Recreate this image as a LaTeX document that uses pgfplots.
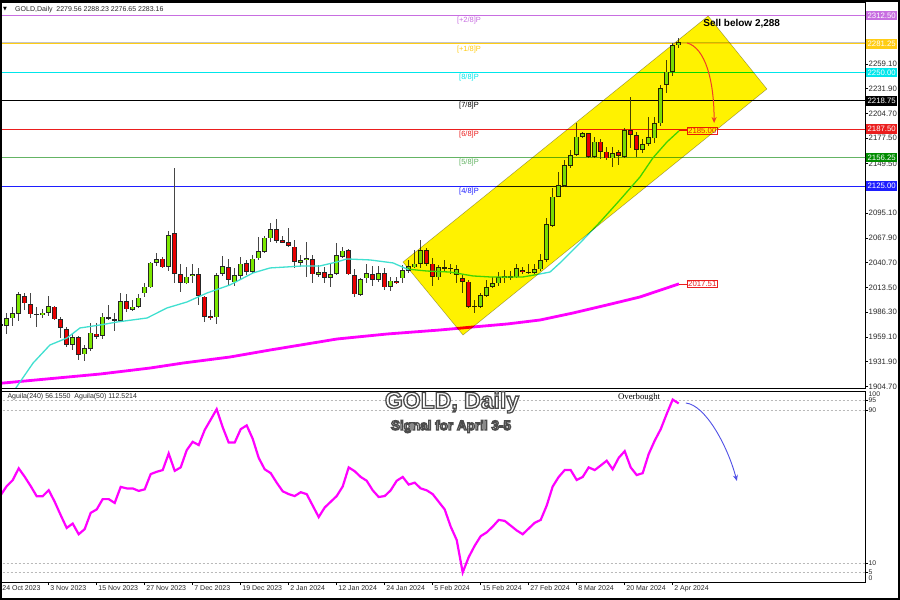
\documentclass[border=0pt]{standalone}
\usepackage{pgfplots}
\pgfplotsset{compat=1.18}
\usepackage{pgfplotstable}
\usetikzlibrary{arrows.meta}
\usepackage{fontspec}
\setmainfont{Liberation Sans}
\newfontfamily\serifff{Liberation Serif}
\newfontfamily\dejavu{DejaVu Sans}

\definecolor{mviolet}{RGB}{200,110,225}
\definecolor{mgold}{RGB}{255,205,20}
\definecolor{maqua}{RGB}{0,230,235}
\definecolor{mred}{RGB}{235,30,30}
\definecolor{mgreen}{RGB}{100,180,100}
\definecolor{mgreenbox}{RGB}{0,140,0}
\definecolor{mblue}{RGB}{30,30,255}
\definecolor{bull}{RGB}{124,232,0}
\definecolor{bear}{RGB}{232,0,0}
\definecolor{wickc}{RGB}{70,70,70}
\definecolor{ma21}{RGB}{64,224,208}
\definecolor{ma200}{RGB}{255,0,255}
\definecolor{txt}{RGB}{40,40,40}
\definecolor{arrred}{RGB}{240,60,40}
\definecolor{arrblue}{RGB}{80,80,230}

% outlined heading text: fill white, stroke dark grey
\newcommand{\outlined}[1]{\special{pdf:literal direct 2 Tr 0.3 0.3 0.3 RG 1.3 w}#1\special{pdf:literal direct 0 Tr}}

% daily candles, x = bar number (24 Oct 2023 = 0)
\pgfplotstableread{
i o h l c
1 1971.6 1985.9 1962.4 1979.7
2 1979.7 1992.4 1971.2 1985.2
3 1984.4 2008.9 1976.9 2006.4
7 1983.0 1989.6 1979.7 1985.9
8 1985.9 2004.2 1982.5 1993.2
12 1950.3 1963.4 1945.0 1959.0
14 1940.1 1950.0 1932.9 1946.7
15 1946.4 1974.2 1943.7 1964.0
17 1960.4 1985.2 1956.8 1981.4
18 1979.7 1994.3 1977.8 1980.8
20 1977.0 2007.5 1975.9 1998.7
22 1988.8 1999.8 1987.4 1992.4
23 1992.4 2006.0 1991.3 2002.3
24 2007.2 2018.2 2003.4 2014.4
25 2013.8 2041.9 2012.7 2040.8
26 2040.8 2051.1 2037.6 2044.5
28 2036.4 2075.6 2032.0 2071.2
31 2018.2 2035.7 2017.1 2025.5
32 2026.1 2039.8 2018.7 2028.4
36 1980.8 2029.2 1973.4 2027.3
37 2028.4 2048.5 2026.1 2037.1
39 2019.3 2034.6 2015.2 2027.3
40 2026.1 2047.1 2021.8 2039.8
42 2030.9 2048.9 2029.2 2045.2
43 2045.6 2069.4 2043.4 2053.6
44 2052.9 2070.1 2051.1 2068.3
45 2067.6 2084.8 2063.9 2077.5
50 2040.8 2049.3 2035.7 2043.7
51 2043.4 2063.9 2025.4 2045.9
53 2027.6 2038.3 2025.4 2030.2
55 2024.2 2040.8 2013.8 2028.4
56 2028.4 2062.8 2027.3 2048.9
57 2047.5 2058.4 2045.6 2054.0
60 2005.3 2024.3 2004.2 2022.9
61 2023.6 2039.8 2018.7 2029.1
63 2021.8 2037.1 2019.3 2029.1
65 2014.4 2024.7 2009.7 2021.0
67 2023.6 2038.3 2018.7 2032.8
68 2032.1 2043.7 2029.8 2037.1
69 2035.7 2055.1 2034.6 2039.8
70 2039.3 2065.8 2034.6 2054.7
73 2024.7 2038.3 2021.8 2035.7
75 2034.6 2039.8 2028.8 2034.9
76 2027.3 2038.3 2018.7 2033.5
80 1992.4 2007.8 1990.7 2005.3
81 2004.2 2021.8 2003.4 2013.8
82 2014.4 2025.5 2012.7 2018.2
83 2018.2 2030.9 2015.2 2024.7
84 2023.6 2032.8 2018.7 2026.1
85 2024.7 2032.1 2021.8 2026.1
86 2024.7 2039.8 2023.6 2034.6
89 2029.8 2039.3 2028.4 2033.5
90 2033.5 2050.4 2032.0 2043.7
91 2043.7 2089.6 2041.9 2083.0
92 2081.1 2122.6 2080.3 2113.3
93 2113.3 2140.8 2112.6 2126.2
94 2125.1 2153.7 2123.7 2148.2
95 2147.1 2164.7 2144.5 2159.2
96 2159.2 2194.7 2158.1 2179.3
97 2179.3 2184.8 2177.5 2183.0
99 2157.3 2178.6 2155.5 2173.8
102 2155.5 2167.5 2146.3 2161.3
104 2157.3 2188.5 2155.5 2186.6
107 2164.7 2176.4 2161.7 2171.3
108 2171.3 2200.6 2169.0 2178.6
109 2177.5 2200.6 2172.0 2194.0
110 2194.0 2236.1 2191.0 2232.5
111 2236.0 2263.6 2227.6 2250.7
112 2250.7 2282.6 2246.0 2280.1
113 2279.56 2288.23 2276.65 2283.16
}\upc

\pgfplotstableread{
i o h l c
0 1972.5 1975.0 1969.0 1972.0
4 2004.2 2007.5 1989.2 1996.2
5 1995.1 2007.5 1979.7 1984.1
6 1984.4 1991.8 1969.8 1983.6
9 1992.4 1993.2 1977.8 1978.6
10 1978.6 1981.4 1957.7 1969.3
11 1967.9 1970.4 1948.5 1950.3
13 1959.0 1960.4 1934.0 1939.8
16 1962.9 1974.2 1956.8 1959.6
19 1978.6 1985.2 1965.7 1977.8
21 1998.7 2006.8 1987.0 1989.6
27 2045.2 2047.4 2034.6 2035.7
29 2073.1 2144.5 2018.7 2028.4
30 2028.4 2039.8 2008.1 2018.7
33 2028.4 2034.6 1994.3 2004.2
34 2003.4 2004.2 1975.9 1981.4
35 1982.2 1988.8 1977.8 1979.7
38 2035.7 2044.9 2015.2 2021.8
41 2040.5 2043.4 2027.3 2030.5
46 2077.5 2088.5 2062.1 2065.0
47 2065.8 2070.1 2062.1 2062.9
48 2063.2 2078.6 2058.4 2059.1
49 2058.4 2065.8 2034.6 2041.9
52 2044.5 2049.3 2018.2 2028.0
54 2030.2 2035.7 2018.7 2024.2
58 2054.4 2055.5 2027.3 2028.0
59 2027.3 2033.5 2002.8 2006.1
62 2028.4 2037.1 2015.2 2021.8
64 2029.1 2035.2 2010.8 2013.8
66 2020.7 2025.4 2017.4 2018.2
71 2054.7 2056.6 2036.7 2039.3
72 2039.8 2045.6 2015.2 2025.4
74 2035.7 2043.7 2031.0 2035.0
77 2023.6 2028.8 2007.2 2019.9
78 2019.9 2021.8 1990.7 1992.4
79 1993.2 1999.8 1985.2 1992.1
87 2032.8 2036.4 2028.8 2030.9
88 2030.9 2039.3 2028.8 2029.8
98 2183.0 2183.7 2155.5 2157.3
100 2173.8 2176.4 2154.4 2162.8
101 2162.8 2168.3 2153.7 2155.5
103 2162.0 2164.9 2148.2 2158.3
105 2186.6 2222.6 2166.5 2181.1
106 2181.1 2184.8 2156.6 2164.7
}\dnc

\pgfplotsset{
  candlebar/.style 2 args={draw=none, mark=none, forget plot,
    error bars/.cd, y dir=both, y explicit, error mark=none,
    error bar style={draw=#1, line width=#2}},
}
\newcommand{\candles}[2]{%
  \addplot[candlebar={wickc}{0.9pt}] table[x=i, y expr={(\thisrow{h}+\thisrow{l})/2},
    y error expr={(\thisrow{h}-\thisrow{l})/2}] {#1};
  \addplot[candlebar={black!85}{4.6pt}] table[x=i, y expr={(\thisrow{o}+\thisrow{c})/2},
    y error expr={max(abs(\thisrow{c}-\thisrow{o})/2,0.7)}] {#1};
  \addplot[candlebar={#2}{3pt}] table[x=i, y expr={(\thisrow{o}+\thisrow{c})/2},
    y error expr={max(abs(\thisrow{c}-\thisrow{o})/2-0.8,0)}] {#1};
}
\newcommand{\murrey}[3]{%
  \addplot[#1, line width=1pt, forget plot] coordinates {(-1,#2) (150,#2)};
  \node[text=#1, anchor=north, inner sep=0pt, yshift=-1.6pt, font=\fontsize{7.5}{8}\selectfont]
    at (axis cs:78.05,#2) {#3};
}
\newcommand{\pricebox}[3]{%
  \node[anchor=west, fill=#1, text=white, inner sep=0pt, minimum width=31pt, minimum height=9.5pt,
    font=\fontsize{7.8}{8}\selectfont] at ([xshift=1pt]#2) {#3};
}

\begin{document}
\begin{tikzpicture}
\path[use as bounding box] (0pt,0pt) rectangle (900pt,600pt);
\fill[white] (0pt,0pt) rectangle (900pt,600pt);

% ---------- price panel ----------
\begin{axis}[
  at={(0pt,212pt)}, anchor=south west,
  scale only axis, width=865pt, height=386pt,
  xmin=-0.117, xmax=144.05, ymin=1903.05, ymax=2327.3,
  axis line style={black, line width=0.8pt},
  xtick=\empty,
  ytick={1904.7,1931.9,1959.1,1986.3,2013.5,2040.7,2067.9,2095.1,2149.5,2177.5,2204.7,2231.9,2259.1},
  yticklabels={1904.70,1931.90,1959.10,1986.30,2013.50,2040.70,2067.90,2095.10,2149.50,2177.50,2204.70,2231.90,2259.10},
  ytick pos=right, yticklabel pos=right,
  tick align=outside, major tick length=3pt,
  tick style={black, line width=0.6pt},
  yticklabel style={font=\fontsize{7.8}{8}\selectfont, text=txt, inner sep=0.5pt},
  clip mode=individual,
]
\murrey{mviolet}{2312.5}{[+2/8]P}
\addplot[gray!45, line width=0.8pt, forget plot] coordinates {(-1,2283.16) (150,2283.16)};
\murrey{mgold}{2281.25}{[+1/8]P}
\murrey{maqua}{2250}{[8/8]P}
\murrey{black}{2218.75}{[7/8]P}
\murrey{mred}{2187.5}{[6/8]P}
\murrey{mgreen}{2156.25}{[5/8]P}
\murrey{mblue}{2125}{[4/8]P}

% 200-day average
\addplot[ma200, line width=2.8pt] coordinates {
(-0.1,1908.2) (16.55,1918.4) (24.9,1925.0) (30.4,1930.5) (38.2,1937.1) (44.9,1944.8)
(56.05,1956.9) (64.4,1962.4) (73.2,1966.8) (78.7,1970.1) (84.4,1973.4) (89.9,1977.8)
(95.4,1985.5) (101.05,1994.3) (106.55,2003.1) (113.05,2017.5)};

\candles{\upc}{bull}
\candles{\dnc}{bear}

% 21-day average
\addplot[ma21, line width=1.3pt] coordinates {
(2.0,1898) (5.4,1930.5) (8.2,1950.3) (11.05,1958.0) (13.2,1969.0) (16.55,1972.3)
(19.4,1975.6) (24.4,1980.0) (27.7,1991.0) (31.05,1997.6) (34.4,2007.5) (38.2,2016.3)
(42.05,2029.5) (44.9,2035.0) (47.7,2036.1) (50.4,2037.2) (53.2,2037.2) (56.05,2041.6)
(57.7,2044.9) (61.55,2043.8) (65.4,2040.5) (67.7,2033.8) (71.05,2031.6) (74.9,2030.5)
(78.7,2026.2) (81.55,2025.1) (84.4,2025.1) (87.05,2025.1) (89.9,2028.4) (91.55,2030.5)
(93.2,2040.4) (96.55,2062.4) (99.9,2085.5) (103.2,2109.7) (106.55,2135.0) (108.7,2155.9)
(111.05,2173.5) (113.05,2185.6)};

% value tags at the ends of the averages
\draw[mred, line width=0.6pt] (axis cs:113.05,2186.1) -- (axis cs:114.4,2186.1);
\node[anchor=west, draw=mred, fill=white, text=mred, inner sep=0.8pt, line width=0.6pt,
  font=\fontsize{7.8}{8}\selectfont] at (axis cs:114.4,2186.1) {2185.00};
\draw[mred, line width=0.6pt] (axis cs:113.05,2017.5) -- (axis cs:114.4,2017.5);
\node[anchor=west, draw=mred, fill=white, text=mred, inner sep=0.8pt, line width=0.6pt,
  font=\fontsize{7.8}{8}\selectfont] at (axis cs:114.4,2017.5) {2017.51};

% rising channel (multiplied over the chart)
\addplot[fill=yellow, draw=gray!70, line width=0.5pt, blend mode=multiply] coordinates {
(67.05,2041.5) (77.05,1961.3) (127.7,2231.7) (117.9,2311.9)} -- cycle;

\draw[arrred, line width=1pt, -{Stealth[length=6pt,width=5pt]}]
  (axis cs:114.4,2282.3) .. controls (axis cs:117.4,2276.8) and (axis cs:118.9,2241.6) .. (axis cs:118.9,2194.3);
\node[anchor=base, font=\bfseries\fontsize{10}{11}\selectfont] at (axis cs:123.5,2300.6) {Sell below 2,288};

\coordinate (b1) at (axis cs:144.05,2312.5);
\coordinate (b2) at (axis cs:144.05,2281.25);
\coordinate (b3) at (axis cs:144.05,2250);
\coordinate (b4) at (axis cs:144.05,2218.75);
\coordinate (b5) at (axis cs:144.05,2187.5);
\coordinate (b6) at (axis cs:144.05,2156.25);
\coordinate (b7) at (axis cs:144.05,2125);
\end{axis}

\pricebox{mviolet}{b1}{2312.50}
\pricebox{mgold}{b2}{2281.25}
\pricebox{maqua}{b3}{2250.00}
\pricebox{black}{b4}{2218.75}
\pricebox{mred}{b5}{2187.50}
\pricebox{mgreenbox}{b6}{2156.25}
\pricebox{mblue}{b7}{2125.00}

% ---------- oscillator panel ----------
\begin{axis}[
  at={(0pt,18pt)}, anchor=south west,
  scale only axis, width=865pt, height=191pt,
  xmin=-0.117, xmax=144.05, ymin=0, ymax=100,
  axis line style={black, line width=0.8pt},
  xtick={0,8,...,112},
  xticklabels={24 Oct 2023,3 Nov 2023,15 Nov 2023,27 Nov 2023,7 Dec 2023,19 Dec 2023,2 Jan 2024,12 Jan 2024,24 Jan 2024,5 Feb 2024,15 Feb 2024,27 Feb 2024,8 Mar 2024,20 Mar 2024,2 Apr 2024},
  xtick pos=bottom,
  xticklabel style={font=\fontsize{7}{8}\selectfont, text=txt, anchor=north west, inner sep=0pt, xshift=1.5pt},
  ytick={5,10,90,95}, yticklabels={5,10,90,95},
  ytick pos=right, yticklabel pos=right,
  yticklabel style={font=\fontsize{6.8}{7}\selectfont, text=txt, inner sep=0.5pt},
  tick align=outside, major tick length=3pt,
  tick style={black, line width=0.6pt},
  clip mode=individual,
]
\addplot[gray!55, dash pattern=on 2pt off 2pt, line width=0.6pt] coordinates {(-1,95) (150,95)};
\addplot[gray!55, dash pattern=on 2pt off 2pt, line width=0.6pt] coordinates {(-1,90) (150,90)};
\addplot[gray!55, dash pattern=on 2pt off 2pt, line width=0.6pt] coordinates {(-1,10) (150,10)};
\addplot[gray!55, dash pattern=on 2pt off 2pt, line width=0.6pt] coordinates {(-1,5) (150,5)};

\addplot[ma200, line width=2.2pt] coordinates {
(0,45.5)(1,50.2)(2,53.3)(3,59.5)(4,55.1)(5,50.2)(6,44.9)(7,44.9)(8,48.1)(9,42.0)
(10,35.0)(11,28.3)(12,30.6)(13,25.0)(14,27.7)(15,36.2)(16,38.0)(17,43.4)(18,43.4)(19,41.4)
(20,49.8)(21,49.0)(22,49.0)(23,47.7)(24,48.5)(25,56.5)(26,57.7)(27,58.6)(28,67.3)(29,58.2)
(30,60.0)(31,69.0)(32,73.4)(33,71.7)(34,79.6)(35,85)(36,90.5)(37,81)(38,73)(39,73)
(40,80)(41,82)(42,75)(43,65)(44,59)(45,57)(46,52)(47,47.5)(48,46)(49,45)
(50,47)(51,46)(52,40)(53,34)(54,39)(55,42)(56,45)(57,50)(58,60)(59,58)
(60,55)(61,53)(62,48)(63,44.5)(64,45)(65,48)(66,53)(67,55)(68,51)(69,52)
(70,49)(71,48)(72,46)(73,42)(74,38)(75,29)(76,22)(77,5)(78,13)(79,19)
(80,24)(81,26)(82,29)(83,32.5)(84,32)(85,29.5)(86,27)(87,25)(88,28)(89,31)
(90,32.5)(91,40)(92,50)(93,55)(94,58.6)(95,58.6)(96,53.4)(97,55)(98,60)(99,58.6)
(100,61)(101,63.5)(102,59)(103,65)(104,68.5)(105,60)(106,56)(107,57)(108,67)(109,74)
(110,80)(111,88)(112,95.5)(113,93.5)};

\draw[arrblue, line width=0.9pt, -{Stealth[length=6pt,width=5pt]}]
  (axis cs:114.2,93.7) .. controls (axis cs:117.4,92.7) and (axis cs:121.1,71.7) .. (axis cs:122.7,52.9);
\node[anchor=base, font=\serifff\fontsize{8.8}{9}\selectfont] at (axis cs:106.4,95.5) {Overbought};
\node[anchor=base west, font=\fontsize{7}{8}\selectfont, text=txt] at (axis cs:0.55,95.9) {Aguila(240) 56.1550\ \ Aguila(50) 112.5214};
\coordinate (t100) at (axis cs:144.05,100);
\coordinate (t0) at (axis cs:144.05,0);
\end{axis}
\node[anchor=north west, inner sep=0.5pt, yshift=-0.5pt, xshift=3pt, text=txt, font=\fontsize{6.8}{7}\selectfont] at (t100) {100};
\node[anchor=south west, inner sep=0.5pt, yshift=1pt, xshift=3pt, text=txt, font=\fontsize{6.8}{7}\selectfont] at (t0) {0};

% ---------- headings ----------
\node[anchor=base west, font=\fontsize{7}{8}\selectfont, text=txt] at (11.7pt,588.8pt) {GOLD,Daily\ \ 2279.56 2288.23 2276.65 2283.16};
\node[anchor=base west, font=\dejavu\fontsize{5}{6}\selectfont, inner sep=0pt] at (3pt,589.5pt) {▼};

\node[anchor=base, text=white, font=\bfseries\fontsize{23}{24}\selectfont] at (452pt,191.7pt) {\outlined{GOLD, Daily}};
\node[anchor=base, text=white, font=\bfseries\fontsize{13.5}{14}\selectfont] at (451pt,170pt) {\outlined{Signal for April 3-5}};

\draw[black, line width=2pt] (1pt,1pt) rectangle (899pt,599pt);
\end{tikzpicture}
\end{document}
